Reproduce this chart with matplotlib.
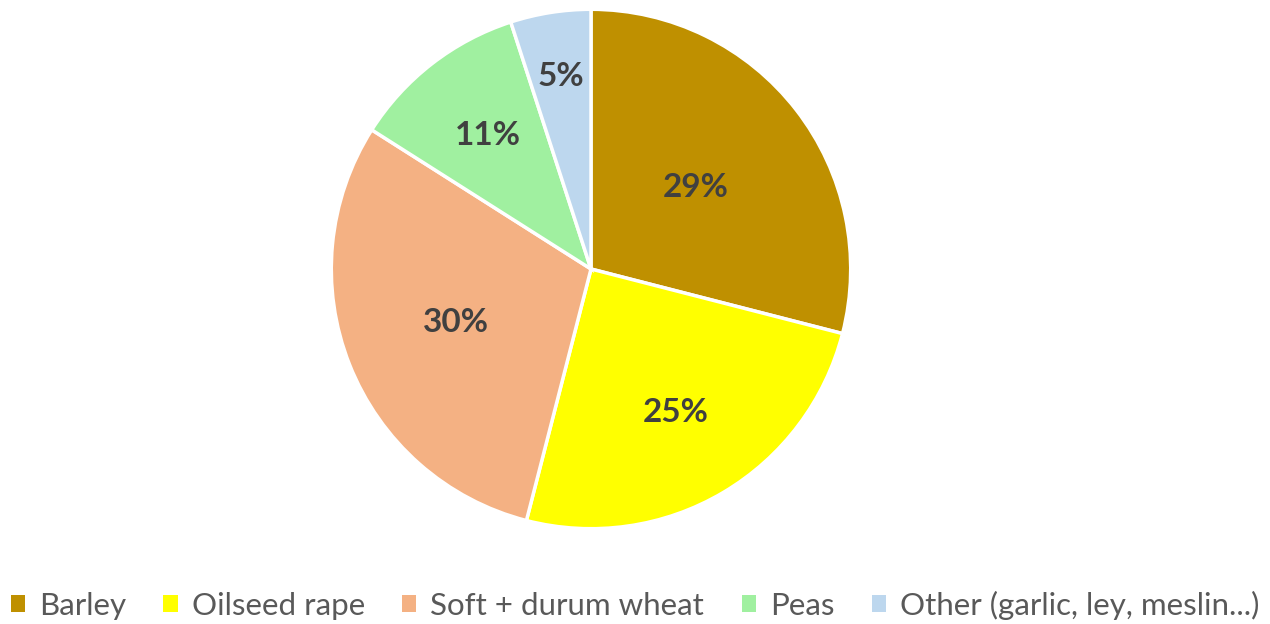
import matplotlib.pyplot as plt
from matplotlib.patches import Patch
import numpy as np

plt.rcParams['font.family'] = ['Lato', 'DejaVu Sans']

crops = ['Barley', 'Oilseed rape', 'Soft + durum wheat', 'Peas', 'Other (garlic, ley, meslin...)']
shares = [29, 25, 30, 11, 5]
colors = ['#BF9000', '#FFFF00', '#F4B183', '#A0F0A0', '#BDD7EE']
label_dist = [0.51, 0.64, 0.56, 0.65, 0.75]

fig = plt.figure(figsize=(12.7, 6.24), dpi=100)
ax = fig.add_axes([330 / 1270, 94 / 624, 522 / 1270, 522 / 624])

wedges, texts, pcts = ax.pie(shares, colors=colors, startangle=90, counterclock=False,
                             autopct='%d%%', pctdistance=0.6,
                             wedgeprops=dict(edgecolor='white', linewidth=2.5),
                             textprops=dict(fontsize=24, fontweight='bold', color='#404040'))

# move labels radially like Excel's best-fit placement
for w, t, d in zip(wedges, pcts, label_dist):
    ang = np.deg2rad((w.theta1 + w.theta2) / 2)
    t.set_position((d * np.cos(ang), d * np.sin(ang)))

ax.set_xlim(-1.005, 1.005)
ax.set_ylim(-1.005, 1.005)
ax.set_aspect('equal')

handles = [Patch(facecolor=c, edgecolor='none') for c in colors]
fig.legend(handles, crops, loc='center', bbox_to_anchor=(0.5, 0.03), ncol=5, frameon=False,
           fontsize=22.5, labelcolor='#595959', handlelength=0.45, handleheight=0.45,
           handletextpad=0.45, columnspacing=1.2)

fig.savefig('out.png', dpi=100)
